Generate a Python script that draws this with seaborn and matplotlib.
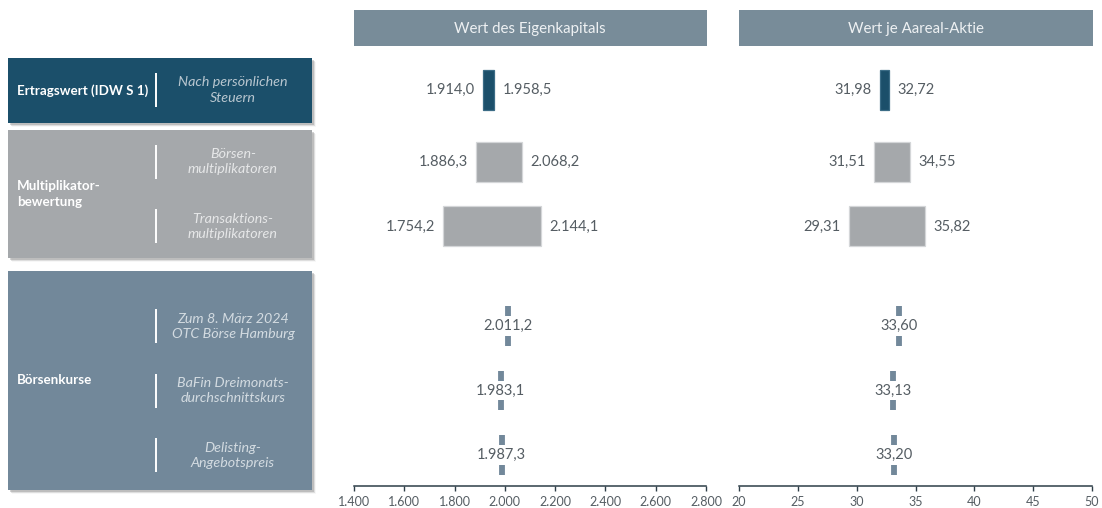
import numpy as np
import matplotlib
matplotlib.use("Agg")
import matplotlib.pyplot as plt
from matplotlib.patches import Rectangle
from matplotlib.ticker import FuncFormatter, MultipleLocator
import seaborn as sns

# ---- data -----------------------------------------------------------------
methods = ["Ertragswert (IDW S 1)", "Multiplikator-\nbewertung", "Börsenkurse"]
rows = [
    "Nach persönlichen\nSteuern",
    "Börsen-\nmultiplikatoren",
    "Transaktions-\nmultiplikatoren",
    "Zum 8. März 2024\nOTC Börse Hamburg",
    "BaFin Dreimonats-\ndurchschnittskurs",
    "Delisting-\nAngebotspreis",
]
row_group = [0, 1, 1, 2, 2, 2]

# equity value (EUR m): ranges for rows 0-2, point values for rows 3-5
equity_low = [1914.0, 1886.3, 1754.2]
equity_high = [1958.5, 2068.2, 2144.1]
equity_point = [2011.2, 1983.1, 1987.3]

# value per share (EUR)
share_low = [31.98, 31.51, 29.31]
share_high = [32.72, 34.55, 35.82]
share_point = [33.60, 33.13, 33.20]

panel_titles = ["Wert des Eigenkapitals", "Wert je Aareal-Aktie"]

# ---- style ----------------------------------------------------------------
sns.set_theme(style="white")
FONT = ["Lato", "DejaVu Sans"]
plt.rcParams["font.family"] = FONT

C_DARK = "#1b4f6a"
C_GREY = "#a5a8ab"
C_SLATE = "#72889a"
C_HEAD = "#788c99"
C_TEXT = "#555d63"
C_AXIS = "#2e3e48"
group_colors = [C_DARK, C_GREY, C_SLATE]
desc_colors = ["#b9c7d0", "#e6e7e8", "#d3dbe1"]

W, H = 1102, 508
fig = plt.figure(figsize=(W / 100, H / 100), dpi=100)

# full-figure overlay in pixel units for the label boxes and headers
bg = fig.add_axes([0, 0, 1, 1], zorder=0)
bg.set_xlim(0, W)
bg.set_ylim(H, 0)
bg.axis("off")

# row layout (pixels)
ROW0 = 90.0
PITCH = 64.5
row_pos = np.arange(len(rows)) + np.array([0, 0.116, 0.116, 0.66, 0.66, 0.66])
row_px = ROW0 + row_pos * PITCH

AX_TOP, AX_BOT = 50, 486
ylim = ((AX_BOT - ROW0) / PITCH, (AX_TOP - ROW0) / PITCH)

# ---- label boxes on the left ---------------------------------------------
boxes = [(8, 58, 312, 123), (8, 130, 312, 258), (8, 271, 312, 490)]
for g, (x0, y0, x1, y1) in enumerate(boxes):
    # soft drop shadow
    for k, a in zip(range(5, 0, -1), [0.05, 0.08, 0.11, 0.14, 0.17]):
        bg.add_patch(Rectangle((x0 + 1 + k * 0.6, y0 + 1 + k * 0.6), x1 - x0, y1 - y0,
                               facecolor="#6d6d6d", edgecolor="none", alpha=a, zorder=1))
    bg.add_patch(Rectangle((x0, y0), x1 - x0, y1 - y0, facecolor=group_colors[g],
                           edgecolor="none", zorder=2))
    bg.text(x0 + 9, (y0 + y1) / 2, methods[g], color="white", fontsize=9.6,
            fontweight="bold", ha="left", va="center", linespacing=1.3, zorder=3)

for i, label in enumerate(rows):
    yc = row_px[i]
    bg.plot([156, 156], [yc - 17, yc + 17], color="white", lw=1.4, zorder=3,
            solid_capstyle="butt")
    bg.text(233, yc, label, color=desc_colors[row_group[i]], fontsize=10.3,
            style="italic", ha="center", va="center", linespacing=1.3, zorder=3)

# ---- panels -----------------------------------------------------------------
panels = [
    dict(x0=354, x1=706, lim=(1400, 2800), step=200, low=equity_low,
         high=equity_high, point=equity_point, dec=1),
    dict(x0=739, x1=1092, lim=(20, 50), step=5, low=share_low,
         high=share_high, point=share_point, dec=2),
]


def de_num(v, dec):
    s = f"{v:,.{dec}f}"
    return s.replace(",", "X").replace(".", ",").replace("X", ".")


for p, title in zip(panels, panel_titles):
    # header bar
    bg.add_patch(Rectangle((p["x0"], 10), p["x1"] - p["x0"] + 1, 36,
                           facecolor=C_HEAD, edgecolor="none", zorder=2))
    bg.text((p["x0"] + p["x1"]) / 2, 28.5, title, color="#eef1f3", fontsize=10.8,
            ha="center", va="center", zorder=3)

    ax = fig.add_axes([p["x0"] / W, (H - AX_BOT) / H, (p["x1"] - p["x0"]) / W,
                       (AX_BOT - AX_TOP) / H], zorder=2)
    ax.patch.set_alpha(0)
    ax.set_xlim(*p["lim"])
    ax.set_ylim(*ylim)

    # range bars
    for i, (lo, hi) in enumerate(zip(p["low"], p["high"])):
        col = group_colors[row_group[i]]
        edge = "#3b6c86" if row_group[i] == 0 else "#d4d6d8"
        ax.barh(row_pos[i], hi - lo, left=lo, height=0.62, color=col,
                edgecolor=edge, linewidth=0.9)
        ax.annotate(de_num(lo, p["dec"]), (lo, row_pos[i]), xytext=(-6, 0),
                    textcoords="offset points", ha="right", va="center",
                    color=C_TEXT, fontsize=10.5)
        ax.annotate(de_num(hi, p["dec"]), (hi, row_pos[i]), xytext=(6, 0),
                    textcoords="offset points", ha="left", va="center",
                    color=C_TEXT, fontsize=10.5)

    # point values (share prices)
    for j, v in enumerate(p["point"]):
        i = 3 + j
        yc = row_pos[i]
        ax.vlines([v, v], [yc - 20 / PITCH, yc + 9.5 / PITCH],
                  [yc - 10 / PITCH, yc + 19.5 / PITCH], color=C_SLATE, lw=4.2)
        ax.text(v, yc, de_num(v, p["dec"]), ha="center", va="center",
                color=C_TEXT, fontsize=10.5)

    # axis styling
    sns.despine(ax=ax, left=True, top=True, right=True)
    ax.spines["bottom"].set_color(C_AXIS)
    ax.spines["bottom"].set_linewidth(1.1)
    ax.set_yticks([])
    ax.xaxis.set_major_locator(MultipleLocator(p["step"]))
    ax.xaxis.set_major_formatter(FuncFormatter(lambda v, _: de_num(v, 0)))
    ax.tick_params(axis="x", bottom=True, direction="out", length=3.5, width=1,
                   color=C_AXIS, labelcolor=C_TEXT, labelsize=9, pad=4)
    ax.grid(False)

fig.savefig("out.png", dpi=100, facecolor="white")
